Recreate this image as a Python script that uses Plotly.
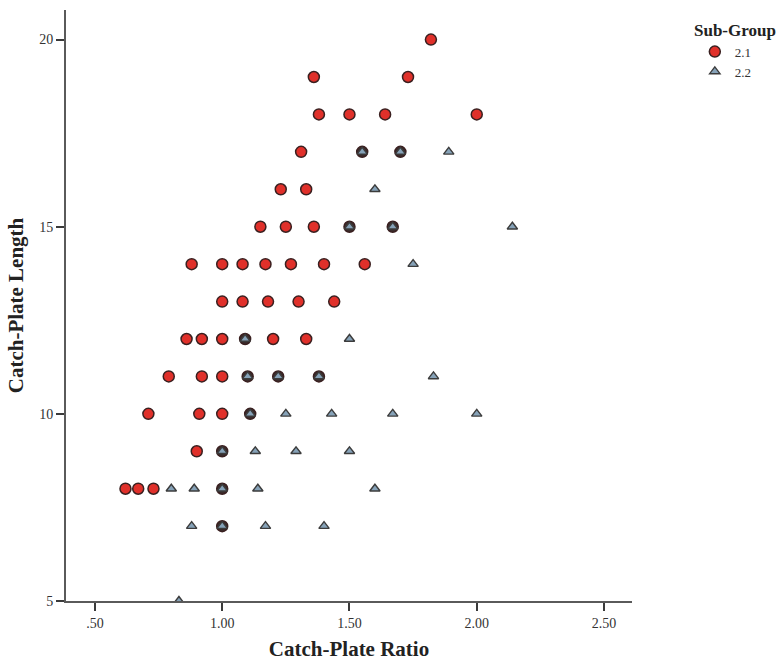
import plotly.graph_objects as go

# Sub-Group 2.1 (circles)
g21_ratio = [1.82,
             1.36, 1.73,
             1.38, 1.50, 1.64, 2.00,
             1.31, 1.55, 1.70,
             1.23, 1.33,
             1.15, 1.25, 1.36, 1.50, 1.67,
             0.88, 1.00, 1.08, 1.17, 1.27, 1.40, 1.56,
             1.00, 1.08, 1.18, 1.30, 1.44,
             0.86, 0.92, 1.00, 1.09, 1.20, 1.33,
             0.79, 0.92, 1.00, 1.10, 1.22, 1.38,
             0.71, 0.91, 1.00, 1.11,
             0.90, 1.00,
             0.62, 0.67, 0.73, 1.00,
             1.00]
g21_length = [20,
              19, 19,
              18, 18, 18, 18,
              17, 17, 17,
              16, 16,
              15, 15, 15, 15, 15,
              14, 14, 14, 14, 14, 14, 14,
              13, 13, 13, 13, 13,
              12, 12, 12, 12, 12, 12,
              11, 11, 11, 11, 11, 11,
              10, 10, 10, 10,
              9, 9,
              8, 8, 8, 8,
              7]

# Sub-Group 2.2 (triangles)
g22_ratio = [1.55, 1.70, 1.89,
             1.60,
             1.50, 1.67, 2.14,
             1.75,
             1.09, 1.50,
             1.10, 1.22, 1.38, 1.83,
             1.11, 1.25, 1.43, 1.67, 2.00,
             1.00, 1.13, 1.29, 1.50,
             0.80, 0.89, 1.00, 1.14, 1.60,
             0.88, 1.00, 1.17, 1.40,
             0.83]
g22_length = [17, 17, 17,
              16,
              15, 15, 15,
              14,
              12, 12,
              11, 11, 11, 11,
              10, 10, 10, 10, 10,
              9, 9, 9, 9,
              8, 8, 8, 8, 8,
              7, 7, 7, 7,
              5]

x_tickvals = [0.5, 1.0, 1.5, 2.0, 2.5]
x_ticktext = [".50", "1.00", "1.50", "2.00", "2.50"]
y_tickvals = [5, 10, 15, 20]
y_ticktext = ["5", "10", "15", "20"]
legend_title = "Sub-Group"

FONT = "Liberation Serif, Times New Roman, serif"

# circles that coincide with a triangle look dark in the reference
g22_pairs = set(zip(g22_ratio, g22_length))
circle_fill = ["#3a2c2c" if (x, y) in g22_pairs else "#e0302a"
               for x, y in zip(g21_ratio, g21_length)]

fig = go.Figure()
fig.add_trace(go.Scatter(
    x=g21_ratio, y=g21_length, mode="markers", name="2.1",
    marker=dict(symbol="circle", size=11, color=circle_fill,
                line=dict(color="#3a2020", width=1.5)),
))
fig.add_trace(go.Scatter(
    x=g22_ratio, y=g22_length, mode="markers", name="2.2",
    marker=dict(symbol="triangle-up", size=9, color="#86a2b8",
                line=dict(color="#3c3c3c", width=1.4)),
))

axis_common = dict(
    showgrid=False, zeroline=False, showline=True,
    linecolor="#5a5a5a", linewidth=2,
    ticks="outside", ticklen=8, tickwidth=2, tickcolor="#3a3a3a",
    tickfont=dict(family=FONT, size=14, color="#333333"),
    automargin=False,
)

fig.update_layout(
    width=781, height=661,
    margin=dict(l=66, r=149, t=10, b=60),
    paper_bgcolor="white", plot_bgcolor="white",
    font=dict(family=FONT, color="#222222"),
    showlegend=True,
    legend=dict(
        x=1.111, xanchor="left", y=0.955, yanchor="top",
        font=dict(family=FONT, size=13, color="#333333"),
        itemsizing="trace", tracegroupgap=0,
    ),
    annotations=[dict(
        text="<b>" + legend_title + "</b>", xref="paper", yref="paper",
        x=(735 - 66) / 566.3, y=1 - (30 - 10) / 590.7,
        xanchor="center", yanchor="middle", showarrow=False,
        font=dict(family=FONT, size=17, color="#222222"),
    )],
    xaxis=dict(range=[0.3863, 2.610], tickvals=x_tickvals, ticktext=x_ticktext,
               title=dict(text="<b>Catch-Plate Ratio</b>",
                          font=dict(family=FONT, size=21, color="#222222"),
                          standoff=16),
               **axis_common),
    yaxis=dict(range=[5, 20.79], tickvals=y_tickvals, ticktext=y_ticktext,
               title=dict(text="<b>Catch-Plate Length</b>",
                          font=dict(family=FONT, size=21, color="#222222"),
                          standoff=10),
               **axis_common),
)

fig.write_html("out.html")
